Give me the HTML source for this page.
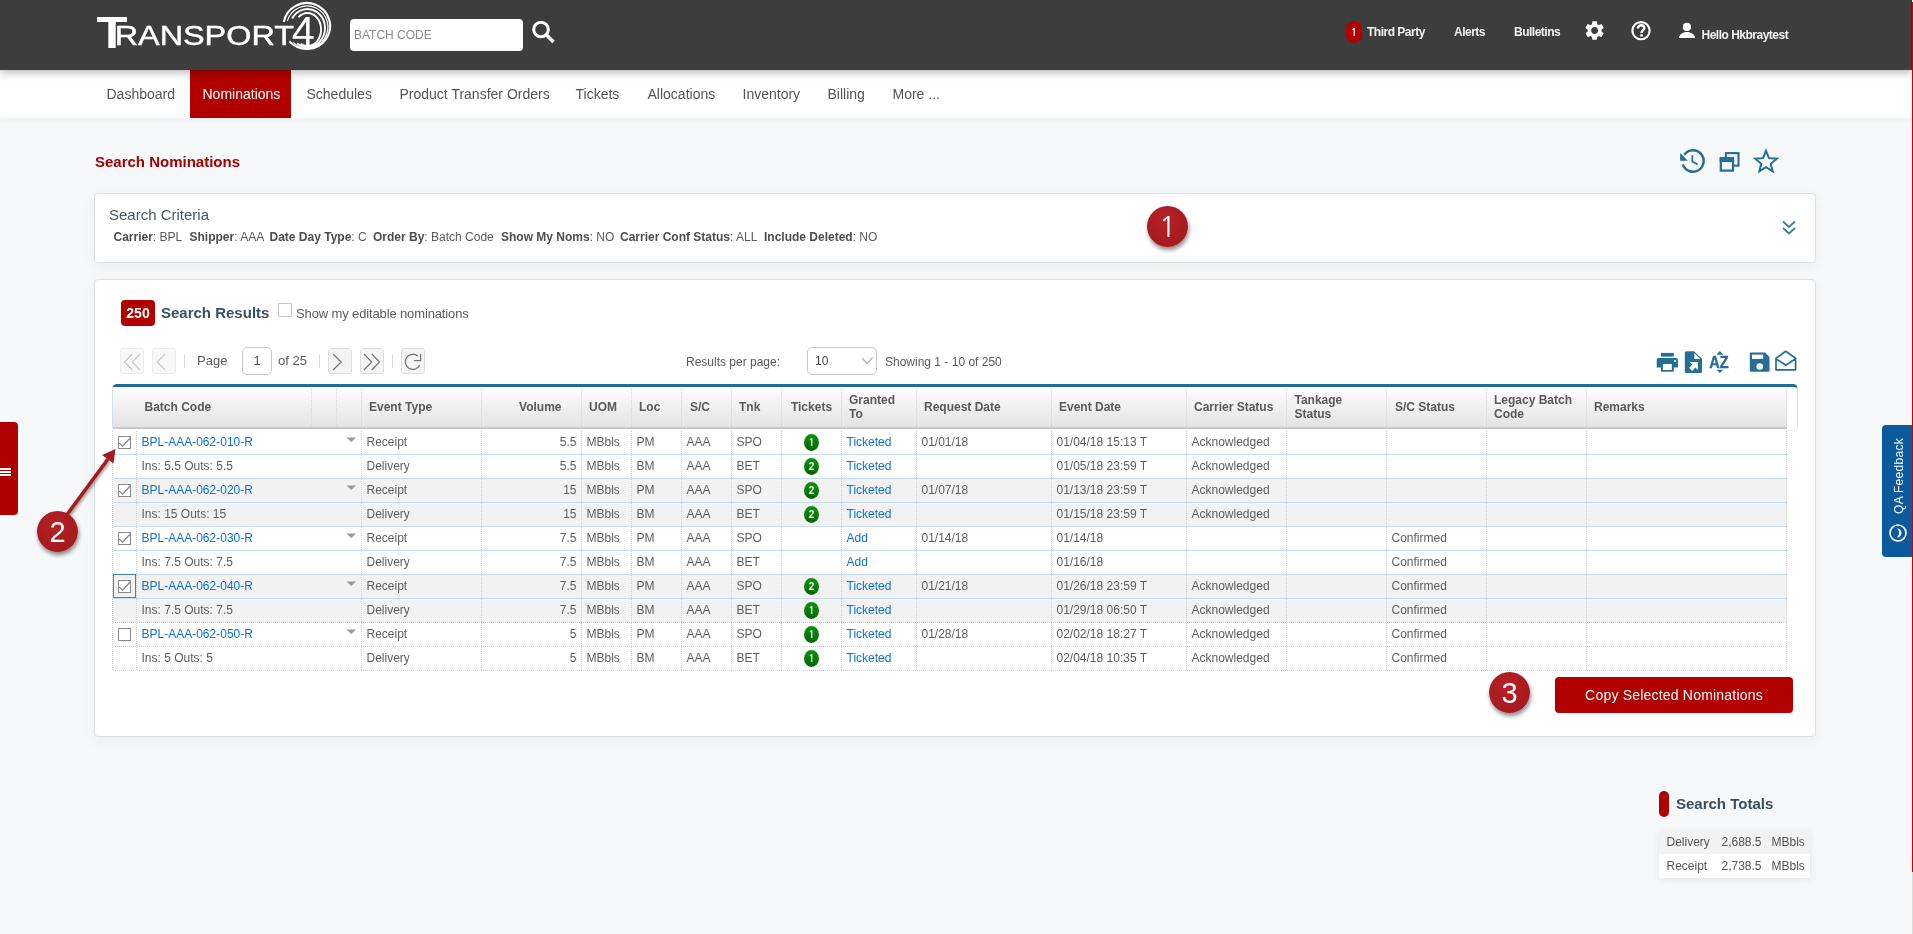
<!DOCTYPE html>
<html><head><meta charset="utf-8"><title>Search Nominations</title>
<style>
html,body{margin:0;padding:0}
body{width:1913px;height:934px;overflow:hidden;position:relative;will-change:transform;background:#f7f8fa;font-family:"Liberation Sans",Arial,sans-serif;}
.t{position:absolute;white-space:nowrap}
.b{position:absolute;box-sizing:border-box}
</style></head><body>
<div class="b" style="left:0px;top:0px;width:1913px;height:70px;background:#3d3d3d;box-shadow:0 2px 9px rgba(0,0,0,.32);z-index:2"></div>
<svg class="t" style="left:0;top:0;z-index:3" width="340" height="60" viewBox="0 0 340 60">
<g fill="none" stroke="#fff" stroke-linecap="butt">
<path d="M283.85 22.01 A23.3 23 0 1 1 289.48 41.39" stroke-width="2.1"/>
<path d="M287.40 20.86 A20.7 21 0 1 1 293.35 42.61" stroke-width="1.2"/>
<path d="M292.16 18.50 A17.6 19 0 1 1 297.05 43.37" stroke-width="1.9"/>
<path d="M298.40 17.24 A13.6 16.5 0 1 1 300.70 43.79" stroke-width="1.9"/>
</g>
<g fill="#fff" font-family="Liberation Sans, Arial, sans-serif">
<text transform="translate(96.44 48) scale(1.13 1)" font-size="45" font-weight="700">T</text>
<text transform="translate(114.64 44.5) scale(1.145 1)" font-size="28.3" stroke="#fff" stroke-width="0.45">RANSPORT</text>
<text transform="translate(291.75 45) scale(1.035 1)" font-size="40">4</text>
</g>
</svg>
<div class="b" style="left:350px;top:19px;width:173px;height:32px;background:#fff;border-radius:4px;z-index:3"></div>
<div class="t" style="left:354px;top:28.00px;font-size:12px;line-height:15px;color:#8a8a8a;z-index:4">BATCH CODE</div>
<svg class="t" style="left:530px;top:19px;z-index:4" width="28" height="28" viewBox="0 0 28 28">
<circle cx="11" cy="10.5" r="7.3" fill="none" stroke="#fff" stroke-width="3"/>
<path d="M16.5 16 L23.5 23" stroke="#fff" stroke-width="3.6" stroke-linecap="butt"/>
</svg>
<div class="b" style="left:1346px;top:21px;width:16px;height:22px;background:#b00000;border-radius:8px;z-index:3"></div>
<div class="t" style="left:1346.0px;width:16px;text-align:center;top:27.00px;font-size:10px;line-height:12px;color:#fff;font-weight:700;z-index:4;font-family:NanumGothic,'Liberation Sans',sans-serif">1</div>
<div class="t" style="left:1367px;top:25.00px;font-size:12px;line-height:15px;color:#f2f2f2;font-weight:700;z-index:4;letter-spacing:-0.5px">Third Party</div>
<div class="t" style="left:1454px;top:25.00px;font-size:12px;line-height:15px;color:#f2f2f2;font-weight:700;z-index:4;letter-spacing:-0.5px">Alerts</div>
<div class="t" style="left:1514px;top:25.00px;font-size:12px;line-height:15px;color:#f2f2f2;font-weight:700;z-index:4;letter-spacing:-0.5px">Bulletins</div>
<svg class="t" style="left:1583.4px;top:18.95px;z-index:4" width="23.2" height="23.2" viewBox="0 0 24 24">
<path fill="#fff" d="M19.14 12.94c.04-.3.06-.61.06-.94 0-.32-.02-.64-.07-.94l2.03-1.58c.18-.14.23-.41.12-.61l-1.92-3.32c-.12-.22-.37-.29-.59-.22l-2.39.96c-.5-.38-1.03-.7-1.62-.94l-.36-2.54c-.04-.24-.24-.41-.48-.41h-3.84c-.24 0-.43.17-.47.41l-.36 2.54c-.59.24-1.13.57-1.62.94l-2.39-.96c-.22-.08-.47 0-.59.22L2.74 8.87c-.12.21-.08.47.12.61l2.03 1.58c-.05.3-.09.63-.09.94s.02.64.07.94l-2.03 1.58c-.18.14-.23.41-.12.61l1.92 3.32c.12.22.37.29.59.22l2.39-.96c.5.38 1.03.7 1.620.94l.36 2.54c.05.24.24.41.48.41h3.84c.24 0 .44-.17.47-.41l.36-2.54c.59-.24 1.13-.56 1.62-.94l2.39.96c.22.08.47 0 .59-.22l1.92-3.32c.12-.22.07-.47-.12-.61l-2.01-1.58zM12 15.6c-1.98 0-3.6-1.62-3.6-3.6s1.62-3.6 3.6-3.6 3.6 1.62 3.6 3.6-1.62 3.6-3.6 3.6z"/>
</svg>
<svg class="t" style="left:1630px;top:20px;z-index:4" width="22" height="22" viewBox="0 0 22 22">
<circle cx="11" cy="10.65" r="8.6" fill="none" stroke="#fff" stroke-width="2.2"/>
<path d="M7.9 8.4 C7.9 6.4 9.4 5.3 11.2 5.3 C13.1 5.3 14.3 6.5 14.3 8.1 C14.3 10.3 11.5 10.4 11.5 12.9" fill="none" stroke="#fff" stroke-width="2.5"/>
<rect x="10.2" y="14.3" width="2.6" height="2.2" fill="#fff"/>
</svg>
<svg class="t" style="left:1678px;top:22px;z-index:4" width="18" height="18" viewBox="0 0 18 18">
<circle cx="8.9" cy="4.9" r="4.1" fill="#fff"/>
<path d="M1 16.1 C1 12.3 5 9.9 8.9 9.9 C12.9 9.9 17 12.3 17 16.1 Z" fill="#fff"/>
</svg>
<div class="t" style="left:1701.5px;top:28.00px;font-size:12px;line-height:15px;color:#f2f2f2;font-weight:700;z-index:4;letter-spacing:-0.5px">Hello Hkbraytest</div>
<div class="b" style="left:0px;top:70px;width:1913px;height:48px;background:#fff;z-index:1;box-shadow:0 1px 5px rgba(0,0,0,.05)"></div>
<div class="b" style="left:190px;top:70px;width:101px;height:48px;background:#b00000;z-index:1"></div>
<div class="t" style="left:106.5px;top:85.00px;font-size:14px;line-height:18px;color:#555;z-index:2">Dashboard</div>
<div class="t" style="left:202.5px;top:85.00px;font-size:14px;line-height:18px;color:#fff;z-index:2">Nominations</div>
<div class="t" style="left:306.5px;top:85.00px;font-size:14px;line-height:18px;color:#555;z-index:2">Schedules</div>
<div class="t" style="left:399.5px;top:85.00px;font-size:14px;line-height:18px;color:#555;z-index:2">Product Transfer Orders</div>
<div class="t" style="left:575.5px;top:85.00px;font-size:14px;line-height:18px;color:#555;z-index:2">Tickets</div>
<div class="t" style="left:647.5px;top:85.00px;font-size:14px;line-height:18px;color:#555;z-index:2">Allocations</div>
<div class="t" style="left:742.5px;top:85.00px;font-size:14px;line-height:18px;color:#555;z-index:2">Inventory</div>
<div class="t" style="left:827.5px;top:85.00px;font-size:14px;line-height:18px;color:#555;z-index:2">Billing</div>
<div class="t" style="left:892.5px;top:85.00px;font-size:14px;line-height:18px;color:#555;z-index:2">More ...</div>
<div class="t" style="left:95px;top:152.00px;font-size:15px;line-height:19px;color:#a30000;font-weight:700;">Search Nominations</div>
<svg class="t" style="left:1678px;top:147px" width="30" height="30" viewBox="0 0 30 30">
<path d="M4.8 17.3 A10.7 10.7 0 1 0 6.3 7.7" fill="none" stroke="#246f93" stroke-width="2.5"/>
<path d="M2.1 5.9 L2.1 13.8 L9.9 13.8 Z" fill="#246f93"/>
<path d="M14.3 8.3 V14.5 L19.6 17.4" fill="none" stroke="#246f93" stroke-width="1.7"/>
</svg>
<svg class="t" style="left:1718px;top:151px" width="23" height="23" viewBox="0 0 23 23">
<rect x="7.9" y="2.1" width="12.6" height="12.5" fill="none" stroke="#246f93" stroke-width="2.1"/>
<rect x="2.8" y="7.3" width="12.2" height="12.3" fill="#f7f8fa" stroke="#246f93" stroke-width="2.2"/>
<rect x="1.7" y="6.2" width="14.4" height="4.9" fill="#246f93"/>
</svg>
<svg class="t" style="left:1752.3px;top:148.3px" width="28" height="28" viewBox="0 0 28 28">
<path d="M14.00 2.80 L16.94 10.15 L24.84 10.68 L18.76 15.75 L20.70 23.42 L14.00 19.20 L7.30 23.42 L9.24 15.75 L3.16 10.68 L11.06 10.15 Z" fill="none" stroke="#246f93" stroke-width="2" stroke-linejoin="miter" stroke-miterlimit="10"/>
</svg>
<div class="b" style="left:94px;top:193px;width:1722px;height:70px;background:#fff;border:1px solid #d9e0e6;border-radius:4px;box-shadow:0 4px 14px rgba(0,0,0,.055)"></div>
<div class="t" style="left:109px;top:205.00px;font-size:15px;line-height:19px;color:#4b5661;">Search Criteria</div>
<div class="t" style="left:113.5px;top:230.00px;font-size:12px;line-height:15px;color:#5a5a5a;"><b style="color:#4d4d4d">Carrier</b>: BPL</div>
<div class="t" style="left:189.5px;top:230.00px;font-size:12px;line-height:15px;color:#5a5a5a;"><b style="color:#4d4d4d">Shipper</b>: AAA</div>
<div class="t" style="left:269.5px;top:230.00px;font-size:12px;line-height:15px;color:#5a5a5a;"><b style="color:#4d4d4d">Date Day Type</b>: C</div>
<div class="t" style="left:373px;top:230.00px;font-size:12px;line-height:15px;color:#5a5a5a;"><b style="color:#4d4d4d">Order By</b>: Batch Code</div>
<div class="t" style="left:501px;top:230.00px;font-size:12px;line-height:15px;color:#5a5a5a;"><b style="color:#4d4d4d">Show My Noms</b>: NO</div>
<div class="t" style="left:620px;top:230.00px;font-size:12px;line-height:15px;color:#5a5a5a;"><b style="color:#4d4d4d">Carrier Conf Status</b>: ALL</div>
<div class="t" style="left:764px;top:230.00px;font-size:12px;line-height:15px;color:#5a5a5a;"><b style="color:#4d4d4d">Include Deleted</b>: NO</div>
<svg class="t" style="left:1780px;top:219px" width="18" height="18" viewBox="0 0 18 18">
<path d="M3 2.5 L9 8 L15 2.5 M3 9 L9 14.5 L15 9" fill="none" stroke="#3a7ea0" stroke-width="1.8"/>
</svg>
<div class="b" style="left:94px;top:279px;width:1722px;height:458px;background:#fff;border:1px solid #d9e0e6;border-radius:4px;box-shadow:0 4px 14px rgba(0,0,0,.055)"></div>
<div class="b" style="left:121px;top:300px;width:34px;height:26px;background:#b00000;border-radius:4px"></div>
<div class="t" style="left:121.0px;width:34px;text-align:center;top:304.00px;font-size:14px;line-height:18px;color:#fff;font-weight:700;">250</div>
<div class="t" style="left:161px;top:303.00px;font-size:15px;line-height:19px;color:#3a5060;font-weight:700;">Search Results</div>
<div class="b" style="left:278px;top:303px;width:14px;height:14px;background:#fff;border:1px solid #c4c4c4;border-radius:1px"></div>
<div class="t" style="left:296px;top:306.00px;font-size:13px;line-height:16px;color:#5a5a5a;letter-spacing:-0.13px">Show my editable nominations</div>
<div class="b" style="left:120px;top:348px;width:24px;height:26px;background:#f8f8f8;border:1px solid #ececec;border-radius:3px"></div>
<svg class="t" style="left:120px;top:348px" width="24" height="26" viewBox="0 0 24 26"><path d="M12.3 6 L4.6 14 L12.3 22 M20 6 L12.3 14 L20 22" fill="none" stroke="#c8c8c8" stroke-width="1.2"/></svg>
<div class="b" style="left:152px;top:348px;width:24px;height:26px;background:#f8f8f8;border:1px solid #ececec;border-radius:3px"></div>
<svg class="t" style="left:152px;top:348px" width="24" height="26" viewBox="0 0 24 26"><path d="M13.2 6 L5.2 14 L13.2 22" fill="none" stroke="#c8c8c8" stroke-width="1.2"/></svg>
<div class="b" style="left:184px;top:354px;width:1px;height:14px;background:#dcdcdc"></div>
<div class="t" style="left:197px;top:353.00px;font-size:13px;line-height:16px;color:#5a5a5a;">Page</div>
<div class="b" style="left:242px;top:347px;width:30px;height:28px;background:#fff;border:1px solid #c8c8c8;border-radius:5px"></div>
<div class="t" style="left:242.0px;width:30px;text-align:center;top:353.00px;font-size:13px;line-height:16px;color:#555;">1</div>
<div class="t" style="left:278px;top:353.00px;font-size:13px;line-height:16px;color:#5a5a5a;">of 25</div>
<div class="b" style="left:319px;top:354px;width:1px;height:14px;background:#dcdcdc"></div>
<div class="b" style="left:328px;top:348px;width:24px;height:26px;background:#f4f4f4;border:1px solid #dedede;border-radius:3px"></div>
<svg class="t" style="left:328px;top:348px" width="24" height="26" viewBox="0 0 24 26"><path d="M5 6 L13.2 14 L5 22" fill="none" stroke="#777" stroke-width="1.2"/></svg>
<div class="b" style="left:360px;top:348px;width:24px;height:26px;background:#f4f4f4;border:1px solid #dedede;border-radius:3px"></div>
<svg class="t" style="left:360px;top:348px" width="24" height="26" viewBox="0 0 24 26"><path d="M4 6 L11.8 14 L4 22 M11.8 6 L19.6 14 L11.8 22" fill="none" stroke="#777" stroke-width="1.2"/></svg>
<div class="b" style="left:392px;top:354px;width:1px;height:14px;background:#dcdcdc"></div>
<div class="b" style="left:401px;top:348px;width:24px;height:26px;background:#f4f4f4;border:1px solid #dedede;border-radius:3px"></div>
<svg class="t" style="left:401px;top:348px" width="24" height="26" viewBox="0 0 24 26"><path d="M18.8 17 A7.6 7.6 0 1 1 16.8 8" fill="none" stroke="#777" stroke-width="1.3"/><path d="M19.6 6 V12.7 H13" fill="none" stroke="#777" stroke-width="1.3"/></svg>
<div class="t" style="left:686px;top:355.00px;font-size:12px;line-height:15px;color:#5a5a5a;">Results per page:</div>
<div class="b" style="left:807px;top:347px;width:70px;height:28px;background:#fff;border:1px solid #c8c8c8;border-radius:5px"></div>
<div class="t" style="left:815px;top:354.00px;font-size:12px;line-height:15px;color:#444;">10</div>
<svg class="t" style="left:860px;top:355px" width="14" height="12" viewBox="0 0 14 12"><path d="M2 3 L7 8.5 L12.5 2.5" fill="none" stroke="#a6b3c3" stroke-width="1.3"/></svg>
<div class="t" style="left:885px;top:355.00px;font-size:12px;line-height:15px;color:#5a5a5a;">Showing 1 - 10 of 250</div>
<svg class="t" style="left:1655px;top:350px" width="145" height="26" viewBox="1655 350 145 26">
<g fill="#246f93">
<rect x="1661" y="352.9" width="12.8" height="3.7"/>
<path d="M1658.3 358.1 h18 a1.6 1.6 0 0 1 1.6 1.6 v7.9 h-21.2 v-7.9 a1.6 1.6 0 0 1 1.6 -1.6z"/>
<rect x="1661" y="363" width="12.8" height="8.7"/>
<rect x="1662.9" y="364" width="8.9" height="6" fill="#fff"/>
<circle cx="1675" cy="361" r="1.05" fill="#fff"/>
<path d="M1686.3 351.2 h7.7 l8 7.6 v12.6 a1.5 1.5 0 0 1 -1.5 1.5 h-14.2 a1.5 1.5 0 0 1 -1.5 -1.5 v-18.7 a1.5 1.5 0 0 1 1.5 -1.5z"/>
<path d="M1694.3 352.9 V359 H1700.3 Z" fill="#fff"/>
<path d="M1689.9 361.9 H1697.9 V370.1 L1695.3 367.6 L1692.3 370.9 L1689.2 367.9 L1692.2 364.6 Z" fill="#fff"/>
<path d="M1719.85 351 L1723.3 354.8 H1716.4Z M1719.95 373.1 L1723.2 369.8 H1716.7Z"/>
</g>
<text x="1709.3" y="367.6" font-family="Liberation Sans, Arial, sans-serif" font-weight="700" font-size="15.7" fill="#246f93" stroke="#246f93" stroke-width="0.35" textLength="19.4" lengthAdjust="spacingAndGlyphs">AZ</text>
<g fill="#246f93">
<path d="M1751 352.5 h14 l4.5 4.5 v13.5 a1.2 1.2 0 0 1 -1.2 1.2 h-17.3 a1.2 1.2 0 0 1 -1.2 -1.2 v-16.8 a1.2 1.2 0 0 1 1.2 -1.2z"/>
<rect x="1752" y="354.6" width="11.2" height="4.4" fill="#fff"/>
<circle cx="1759.7" cy="366.5" r="3.3" fill="#fff"/>
</g>
<path d="M1776 358.3 L1785.8 351.3 L1795.6 358.3 V369.8 H1776 Z M1776 358.8 L1785.8 365.2 L1795.6 358.8" fill="none" stroke="#246f93" stroke-width="1.7" stroke-linejoin="round"/>
</svg>
<div class="b" style="left:112px;top:384px;width:1686px;height:47px;background:#fff;border:1px solid #d3e0e8;border-top:3px solid #1f6e92;border-bottom-color:#eef3f6;border-radius:5px 5px 5px 5px"></div>
<div class="b" style="left:113px;top:387px;width:1674px;height:42px;background:linear-gradient(#ffffff,#f3f3f3 40%,#e3e3e3);border-bottom:2px solid #c9c9c9"></div>
<div class="b" style="left:311.0px;top:388px;width:1px;height:39px;background:repeating-linear-gradient(#d6d6d6 0 1px,transparent 1px 2px)"></div>
<div class="b" style="left:336.0px;top:388px;width:1px;height:39px;background:repeating-linear-gradient(#d6d6d6 0 1px,transparent 1px 2px)"></div>
<div class="b" style="left:361.0px;top:388px;width:1px;height:39px;background:repeating-linear-gradient(#d6d6d6 0 1px,transparent 1px 2px)"></div>
<div class="b" style="left:481.0px;top:388px;width:1px;height:39px;background:repeating-linear-gradient(#d6d6d6 0 1px,transparent 1px 2px)"></div>
<div class="b" style="left:581.0px;top:388px;width:1px;height:39px;background:repeating-linear-gradient(#d6d6d6 0 1px,transparent 1px 2px)"></div>
<div class="b" style="left:631.0px;top:388px;width:1px;height:39px;background:repeating-linear-gradient(#d6d6d6 0 1px,transparent 1px 2px)"></div>
<div class="b" style="left:681.0px;top:388px;width:1px;height:39px;background:repeating-linear-gradient(#d6d6d6 0 1px,transparent 1px 2px)"></div>
<div class="b" style="left:731.0px;top:388px;width:1px;height:39px;background:repeating-linear-gradient(#d6d6d6 0 1px,transparent 1px 2px)"></div>
<div class="b" style="left:781.0px;top:388px;width:1px;height:39px;background:repeating-linear-gradient(#d6d6d6 0 1px,transparent 1px 2px)"></div>
<div class="b" style="left:841.0px;top:388px;width:1px;height:39px;background:repeating-linear-gradient(#d6d6d6 0 1px,transparent 1px 2px)"></div>
<div class="b" style="left:916.0px;top:388px;width:1px;height:39px;background:repeating-linear-gradient(#d6d6d6 0 1px,transparent 1px 2px)"></div>
<div class="b" style="left:1051.0px;top:388px;width:1px;height:39px;background:repeating-linear-gradient(#d6d6d6 0 1px,transparent 1px 2px)"></div>
<div class="b" style="left:1186.0px;top:388px;width:1px;height:39px;background:repeating-linear-gradient(#d6d6d6 0 1px,transparent 1px 2px)"></div>
<div class="b" style="left:1286.0px;top:388px;width:1px;height:39px;background:repeating-linear-gradient(#d6d6d6 0 1px,transparent 1px 2px)"></div>
<div class="b" style="left:1386.0px;top:388px;width:1px;height:39px;background:repeating-linear-gradient(#d6d6d6 0 1px,transparent 1px 2px)"></div>
<div class="b" style="left:1486.0px;top:388px;width:1px;height:39px;background:repeating-linear-gradient(#d6d6d6 0 1px,transparent 1px 2px)"></div>
<div class="b" style="left:1586.0px;top:388px;width:1px;height:39px;background:repeating-linear-gradient(#d6d6d6 0 1px,transparent 1px 2px)"></div>
<div class="b" style="left:1786.0px;top:388px;width:1px;height:39px;background:repeating-linear-gradient(#d6d6d6 0 1px,transparent 1px 2px)"></div>
<div class="t" style="left:144.5px;top:400.00px;font-size:12px;line-height:15px;color:#595959;font-weight:700;">Batch Code</div>
<div class="t" style="left:369px;top:400.00px;font-size:12px;line-height:15px;color:#595959;font-weight:700;">Event Type</div>
<div class="t" style="left:501.5px;width:60px;text-align:right;top:400.00px;font-size:12px;line-height:15px;color:#595959;font-weight:700;">Volume</div>
<div class="t" style="left:589px;top:400.00px;font-size:12px;line-height:15px;color:#595959;font-weight:700;">UOM</div>
<div class="t" style="left:639px;top:400.00px;font-size:12px;line-height:15px;color:#595959;font-weight:700;">Loc</div>
<div class="t" style="left:690px;top:400.00px;font-size:12px;line-height:15px;color:#595959;font-weight:700;">S/C</div>
<div class="t" style="left:739px;top:400.00px;font-size:12px;line-height:15px;color:#595959;font-weight:700;">Tnk</div>
<div class="t" style="left:782.5px;width:58px;text-align:center;top:400.00px;font-size:12px;line-height:15px;color:#595959;font-weight:700;">Tickets</div>
<div class="t" style="left:849px;top:393.00px;font-size:12px;line-height:15px;color:#595959;font-weight:700;">Granted</div>
<div class="t" style="left:849px;top:407.00px;font-size:12px;line-height:15px;color:#595959;font-weight:700;">To</div>
<div class="t" style="left:924px;top:400.00px;font-size:12px;line-height:15px;color:#595959;font-weight:700;">Request Date</div>
<div class="t" style="left:1059px;top:400.00px;font-size:12px;line-height:15px;color:#595959;font-weight:700;">Event Date</div>
<div class="t" style="left:1194px;top:400.00px;font-size:12px;line-height:15px;color:#595959;font-weight:700;">Carrier Status</div>
<div class="t" style="left:1294.5px;top:393.00px;font-size:12px;line-height:15px;color:#595959;font-weight:700;">Tankage</div>
<div class="t" style="left:1294.5px;top:407.00px;font-size:12px;line-height:15px;color:#595959;font-weight:700;">Status</div>
<div class="t" style="left:1395px;top:400.00px;font-size:12px;line-height:15px;color:#595959;font-weight:700;">S/C Status</div>
<div class="t" style="left:1494px;top:393.00px;font-size:12px;line-height:15px;color:#595959;font-weight:700;">Legacy Batch</div>
<div class="t" style="left:1494px;top:407.00px;font-size:12px;line-height:15px;color:#595959;font-weight:700;">Code</div>
<div class="t" style="left:1594px;top:400.00px;font-size:12px;line-height:15px;color:#595959;font-weight:700;">Remarks</div>
<div class="b" style="left:113px;top:430px;width:1674px;height:24px;background:#fff"></div>
<div class="b" style="left:113px;top:454px;width:1674px;height:24px;background:#fff"></div>
<div class="b" style="left:113px;top:478px;width:1674px;height:24px;background:#f2f2f2"></div>
<div class="b" style="left:113px;top:502px;width:1674px;height:24px;background:#f2f2f2"></div>
<div class="b" style="left:113px;top:526px;width:1674px;height:24px;background:#fff"></div>
<div class="b" style="left:113px;top:550px;width:1674px;height:24px;background:#fff"></div>
<div class="b" style="left:113px;top:574px;width:1674px;height:24px;background:#f2f2f2"></div>
<div class="b" style="left:113px;top:598px;width:1674px;height:24px;background:#f2f2f2"></div>
<div class="b" style="left:113px;top:622px;width:1674px;height:24px;background:#fff"></div>
<div class="b" style="left:113px;top:646px;width:1674px;height:24px;background:#fff"></div>
<div class="b" style="left:118px;top:436px;width:13px;height:13px;background:#fff;border:1.2px solid #8a8a8a"></div>
<svg class="t" style="left:118px;top:436px" width="13" height="13" viewBox="0 0 13 13"><path d="M1.1 6.9 L4.6 10.2 L12.4 1.7" fill="none" stroke="#8a8a8a" stroke-width="1.3"/></svg>
<div class="t" style="left:141.5px;top:435.00px;font-size:12px;line-height:15px;color:#0e71d4;">BPL-AAA-062-010-R</div>
<svg class="t" style="left:346px;top:437px" width="11" height="6" viewBox="0 0 11 6"><path d="M0.5 0.5 H10 L5.25 5 Z" fill="#9a9a9a"/></svg>
<div class="t" style="left:366.5px;top:435.00px;font-size:12px;line-height:15px;color:#5e5e5e;">Receipt</div>
<div class="t" style="left:516.5px;width:60px;text-align:right;top:435.00px;font-size:12px;line-height:15px;color:#5e5e5e;">5.5</div>
<div class="t" style="left:586.5px;top:435.00px;font-size:12px;line-height:15px;color:#5e5e5e;">MBbls</div>
<div class="t" style="left:636.5px;top:435.00px;font-size:12px;line-height:15px;color:#5e5e5e;">PM</div>
<div class="t" style="left:686.5px;top:435.00px;font-size:12px;line-height:15px;color:#5e5e5e;">AAA</div>
<div class="t" style="left:736.5px;top:435.00px;font-size:12px;line-height:15px;color:#5e5e5e;">SPO</div>
<div class="b" style="left:804px;top:434px;width:15px;height:17px;border-radius:50%;background:linear-gradient(#0a960a,#087c08 55%,#056205);z-index:1"></div>
<div class="t" style="left:803.5px;width:16px;text-align:center;top:437.00px;font-size:10px;line-height:12px;color:#fff;font-weight:700;z-index:2;font-family:NanumGothic,'Liberation Sans',sans-serif;">1</div>
<div class="t" style="left:846.5px;top:435.00px;font-size:12px;line-height:15px;color:#0e71d4;">Ticketed</div>
<div class="t" style="left:921.5px;top:435.00px;font-size:12px;line-height:15px;color:#5e5e5e;">01/01/18</div>
<div class="t" style="left:1056.5px;top:435.00px;font-size:12px;line-height:15px;color:#5e5e5e;">01/04/18 15:13 T</div>
<div class="t" style="left:1191.5px;top:435.00px;font-size:12px;line-height:15px;color:#5e5e5e;">Acknowledged</div>
<div class="t" style="left:141.5px;top:459.00px;font-size:12px;line-height:15px;color:#5e5e5e;">Ins: 5.5 Outs: 5.5</div>
<div class="t" style="left:366.5px;top:459.00px;font-size:12px;line-height:15px;color:#5e5e5e;">Delivery</div>
<div class="t" style="left:516.5px;width:60px;text-align:right;top:459.00px;font-size:12px;line-height:15px;color:#5e5e5e;">5.5</div>
<div class="t" style="left:586.5px;top:459.00px;font-size:12px;line-height:15px;color:#5e5e5e;">MBbls</div>
<div class="t" style="left:636.5px;top:459.00px;font-size:12px;line-height:15px;color:#5e5e5e;">BM</div>
<div class="t" style="left:686.5px;top:459.00px;font-size:12px;line-height:15px;color:#5e5e5e;">AAA</div>
<div class="t" style="left:736.5px;top:459.00px;font-size:12px;line-height:15px;color:#5e5e5e;">BET</div>
<div class="b" style="left:804px;top:458px;width:15px;height:17px;border-radius:50%;background:linear-gradient(#0a960a,#087c08 55%,#056205);z-index:1"></div>
<div class="t" style="left:803.5px;width:16px;text-align:center;top:461.00px;font-size:10px;line-height:12px;color:#fff;font-weight:700;z-index:2;">2</div>
<div class="t" style="left:846.5px;top:459.00px;font-size:12px;line-height:15px;color:#0e71d4;">Ticketed</div>
<div class="t" style="left:1056.5px;top:459.00px;font-size:12px;line-height:15px;color:#5e5e5e;">01/05/18 23:59 T</div>
<div class="t" style="left:1191.5px;top:459.00px;font-size:12px;line-height:15px;color:#5e5e5e;">Acknowledged</div>
<div class="b" style="left:118px;top:484px;width:13px;height:13px;background:#fff;border:1.2px solid #8a8a8a"></div>
<svg class="t" style="left:118px;top:484px" width="13" height="13" viewBox="0 0 13 13"><path d="M1.1 6.9 L4.6 10.2 L12.4 1.7" fill="none" stroke="#8a8a8a" stroke-width="1.3"/></svg>
<div class="t" style="left:141.5px;top:483.00px;font-size:12px;line-height:15px;color:#0e71d4;">BPL-AAA-062-020-R</div>
<svg class="t" style="left:346px;top:485px" width="11" height="6" viewBox="0 0 11 6"><path d="M0.5 0.5 H10 L5.25 5 Z" fill="#9a9a9a"/></svg>
<div class="t" style="left:366.5px;top:483.00px;font-size:12px;line-height:15px;color:#5e5e5e;">Receipt</div>
<div class="t" style="left:516.5px;width:60px;text-align:right;top:483.00px;font-size:12px;line-height:15px;color:#5e5e5e;">15</div>
<div class="t" style="left:586.5px;top:483.00px;font-size:12px;line-height:15px;color:#5e5e5e;">MBbls</div>
<div class="t" style="left:636.5px;top:483.00px;font-size:12px;line-height:15px;color:#5e5e5e;">PM</div>
<div class="t" style="left:686.5px;top:483.00px;font-size:12px;line-height:15px;color:#5e5e5e;">AAA</div>
<div class="t" style="left:736.5px;top:483.00px;font-size:12px;line-height:15px;color:#5e5e5e;">SPO</div>
<div class="b" style="left:804px;top:482px;width:15px;height:17px;border-radius:50%;background:linear-gradient(#0a960a,#087c08 55%,#056205);z-index:1"></div>
<div class="t" style="left:803.5px;width:16px;text-align:center;top:485.00px;font-size:10px;line-height:12px;color:#fff;font-weight:700;z-index:2;">2</div>
<div class="t" style="left:846.5px;top:483.00px;font-size:12px;line-height:15px;color:#0e71d4;">Ticketed</div>
<div class="t" style="left:921.5px;top:483.00px;font-size:12px;line-height:15px;color:#5e5e5e;">01/07/18</div>
<div class="t" style="left:1056.5px;top:483.00px;font-size:12px;line-height:15px;color:#5e5e5e;">01/13/18 23:59 T</div>
<div class="t" style="left:1191.5px;top:483.00px;font-size:12px;line-height:15px;color:#5e5e5e;">Acknowledged</div>
<div class="t" style="left:141.5px;top:507.00px;font-size:12px;line-height:15px;color:#5e5e5e;">Ins: 15 Outs: 15</div>
<div class="t" style="left:366.5px;top:507.00px;font-size:12px;line-height:15px;color:#5e5e5e;">Delivery</div>
<div class="t" style="left:516.5px;width:60px;text-align:right;top:507.00px;font-size:12px;line-height:15px;color:#5e5e5e;">15</div>
<div class="t" style="left:586.5px;top:507.00px;font-size:12px;line-height:15px;color:#5e5e5e;">MBbls</div>
<div class="t" style="left:636.5px;top:507.00px;font-size:12px;line-height:15px;color:#5e5e5e;">BM</div>
<div class="t" style="left:686.5px;top:507.00px;font-size:12px;line-height:15px;color:#5e5e5e;">AAA</div>
<div class="t" style="left:736.5px;top:507.00px;font-size:12px;line-height:15px;color:#5e5e5e;">BET</div>
<div class="b" style="left:804px;top:506px;width:15px;height:17px;border-radius:50%;background:linear-gradient(#0a960a,#087c08 55%,#056205);z-index:1"></div>
<div class="t" style="left:803.5px;width:16px;text-align:center;top:509.00px;font-size:10px;line-height:12px;color:#fff;font-weight:700;z-index:2;">2</div>
<div class="t" style="left:846.5px;top:507.00px;font-size:12px;line-height:15px;color:#0e71d4;">Ticketed</div>
<div class="t" style="left:1056.5px;top:507.00px;font-size:12px;line-height:15px;color:#5e5e5e;">01/15/18 23:59 T</div>
<div class="t" style="left:1191.5px;top:507.00px;font-size:12px;line-height:15px;color:#5e5e5e;">Acknowledged</div>
<div class="b" style="left:118px;top:532px;width:13px;height:13px;background:#fff;border:1.2px solid #8a8a8a"></div>
<svg class="t" style="left:118px;top:532px" width="13" height="13" viewBox="0 0 13 13"><path d="M1.1 6.9 L4.6 10.2 L12.4 1.7" fill="none" stroke="#8a8a8a" stroke-width="1.3"/></svg>
<div class="t" style="left:141.5px;top:531.00px;font-size:12px;line-height:15px;color:#0e71d4;">BPL-AAA-062-030-R</div>
<svg class="t" style="left:346px;top:533px" width="11" height="6" viewBox="0 0 11 6"><path d="M0.5 0.5 H10 L5.25 5 Z" fill="#9a9a9a"/></svg>
<div class="t" style="left:366.5px;top:531.00px;font-size:12px;line-height:15px;color:#5e5e5e;">Receipt</div>
<div class="t" style="left:516.5px;width:60px;text-align:right;top:531.00px;font-size:12px;line-height:15px;color:#5e5e5e;">7.5</div>
<div class="t" style="left:586.5px;top:531.00px;font-size:12px;line-height:15px;color:#5e5e5e;">MBbls</div>
<div class="t" style="left:636.5px;top:531.00px;font-size:12px;line-height:15px;color:#5e5e5e;">PM</div>
<div class="t" style="left:686.5px;top:531.00px;font-size:12px;line-height:15px;color:#5e5e5e;">AAA</div>
<div class="t" style="left:736.5px;top:531.00px;font-size:12px;line-height:15px;color:#5e5e5e;">SPO</div>
<div class="t" style="left:846.5px;top:531.00px;font-size:12px;line-height:15px;color:#0e71d4;">Add</div>
<div class="t" style="left:921.5px;top:531.00px;font-size:12px;line-height:15px;color:#5e5e5e;">01/14/18</div>
<div class="t" style="left:1056.5px;top:531.00px;font-size:12px;line-height:15px;color:#5e5e5e;">01/14/18</div>
<div class="t" style="left:1391.5px;top:531.00px;font-size:12px;line-height:15px;color:#5e5e5e;">Confirmed</div>
<div class="t" style="left:141.5px;top:555.00px;font-size:12px;line-height:15px;color:#5e5e5e;">Ins: 7.5 Outs: 7.5</div>
<div class="t" style="left:366.5px;top:555.00px;font-size:12px;line-height:15px;color:#5e5e5e;">Delivery</div>
<div class="t" style="left:516.5px;width:60px;text-align:right;top:555.00px;font-size:12px;line-height:15px;color:#5e5e5e;">7.5</div>
<div class="t" style="left:586.5px;top:555.00px;font-size:12px;line-height:15px;color:#5e5e5e;">MBbls</div>
<div class="t" style="left:636.5px;top:555.00px;font-size:12px;line-height:15px;color:#5e5e5e;">BM</div>
<div class="t" style="left:686.5px;top:555.00px;font-size:12px;line-height:15px;color:#5e5e5e;">AAA</div>
<div class="t" style="left:736.5px;top:555.00px;font-size:12px;line-height:15px;color:#5e5e5e;">BET</div>
<div class="t" style="left:846.5px;top:555.00px;font-size:12px;line-height:15px;color:#0e71d4;">Add</div>
<div class="t" style="left:1056.5px;top:555.00px;font-size:12px;line-height:15px;color:#5e5e5e;">01/16/18</div>
<div class="t" style="left:1391.5px;top:555.00px;font-size:12px;line-height:15px;color:#5e5e5e;">Confirmed</div>
<div class="b" style="left:118px;top:580px;width:13px;height:13px;background:#fff;border:1.2px solid #8a8a8a"></div>
<svg class="t" style="left:118px;top:580px" width="13" height="13" viewBox="0 0 13 13"><path d="M1.1 6.9 L4.6 10.2 L12.4 1.7" fill="none" stroke="#8a8a8a" stroke-width="1.3"/></svg>
<div class="t" style="left:141.5px;top:579.00px;font-size:12px;line-height:15px;color:#0e71d4;">BPL-AAA-062-040-R</div>
<svg class="t" style="left:346px;top:581px" width="11" height="6" viewBox="0 0 11 6"><path d="M0.5 0.5 H10 L5.25 5 Z" fill="#9a9a9a"/></svg>
<div class="t" style="left:366.5px;top:579.00px;font-size:12px;line-height:15px;color:#5e5e5e;">Receipt</div>
<div class="t" style="left:516.5px;width:60px;text-align:right;top:579.00px;font-size:12px;line-height:15px;color:#5e5e5e;">7.5</div>
<div class="t" style="left:586.5px;top:579.00px;font-size:12px;line-height:15px;color:#5e5e5e;">MBbls</div>
<div class="t" style="left:636.5px;top:579.00px;font-size:12px;line-height:15px;color:#5e5e5e;">PM</div>
<div class="t" style="left:686.5px;top:579.00px;font-size:12px;line-height:15px;color:#5e5e5e;">AAA</div>
<div class="t" style="left:736.5px;top:579.00px;font-size:12px;line-height:15px;color:#5e5e5e;">SPO</div>
<div class="b" style="left:804px;top:578px;width:15px;height:17px;border-radius:50%;background:linear-gradient(#0a960a,#087c08 55%,#056205);z-index:1"></div>
<div class="t" style="left:803.5px;width:16px;text-align:center;top:581.00px;font-size:10px;line-height:12px;color:#fff;font-weight:700;z-index:2;">2</div>
<div class="t" style="left:846.5px;top:579.00px;font-size:12px;line-height:15px;color:#0e71d4;">Ticketed</div>
<div class="t" style="left:921.5px;top:579.00px;font-size:12px;line-height:15px;color:#5e5e5e;">01/21/18</div>
<div class="t" style="left:1056.5px;top:579.00px;font-size:12px;line-height:15px;color:#5e5e5e;">01/26/18 23:59 T</div>
<div class="t" style="left:1191.5px;top:579.00px;font-size:12px;line-height:15px;color:#5e5e5e;">Acknowledged</div>
<div class="t" style="left:1391.5px;top:579.00px;font-size:12px;line-height:15px;color:#5e5e5e;">Confirmed</div>
<div class="t" style="left:141.5px;top:603.00px;font-size:12px;line-height:15px;color:#5e5e5e;">Ins: 7.5 Outs: 7.5</div>
<div class="t" style="left:366.5px;top:603.00px;font-size:12px;line-height:15px;color:#5e5e5e;">Delivery</div>
<div class="t" style="left:516.5px;width:60px;text-align:right;top:603.00px;font-size:12px;line-height:15px;color:#5e5e5e;">7.5</div>
<div class="t" style="left:586.5px;top:603.00px;font-size:12px;line-height:15px;color:#5e5e5e;">MBbls</div>
<div class="t" style="left:636.5px;top:603.00px;font-size:12px;line-height:15px;color:#5e5e5e;">BM</div>
<div class="t" style="left:686.5px;top:603.00px;font-size:12px;line-height:15px;color:#5e5e5e;">AAA</div>
<div class="t" style="left:736.5px;top:603.00px;font-size:12px;line-height:15px;color:#5e5e5e;">BET</div>
<div class="b" style="left:804px;top:602px;width:15px;height:17px;border-radius:50%;background:linear-gradient(#0a960a,#087c08 55%,#056205);z-index:1"></div>
<div class="t" style="left:803.5px;width:16px;text-align:center;top:605.00px;font-size:10px;line-height:12px;color:#fff;font-weight:700;z-index:2;font-family:NanumGothic,'Liberation Sans',sans-serif;">1</div>
<div class="t" style="left:846.5px;top:603.00px;font-size:12px;line-height:15px;color:#0e71d4;">Ticketed</div>
<div class="t" style="left:1056.5px;top:603.00px;font-size:12px;line-height:15px;color:#5e5e5e;">01/29/18 06:50 T</div>
<div class="t" style="left:1191.5px;top:603.00px;font-size:12px;line-height:15px;color:#5e5e5e;">Acknowledged</div>
<div class="t" style="left:1391.5px;top:603.00px;font-size:12px;line-height:15px;color:#5e5e5e;">Confirmed</div>
<div class="b" style="left:118px;top:628px;width:13px;height:13px;background:#fff;border:1.2px solid #8a8a8a"></div>
<div class="t" style="left:141.5px;top:627.00px;font-size:12px;line-height:15px;color:#0e71d4;">BPL-AAA-062-050-R</div>
<svg class="t" style="left:346px;top:629px" width="11" height="6" viewBox="0 0 11 6"><path d="M0.5 0.5 H10 L5.25 5 Z" fill="#9a9a9a"/></svg>
<div class="t" style="left:366.5px;top:627.00px;font-size:12px;line-height:15px;color:#5e5e5e;">Receipt</div>
<div class="t" style="left:516.5px;width:60px;text-align:right;top:627.00px;font-size:12px;line-height:15px;color:#5e5e5e;">5</div>
<div class="t" style="left:586.5px;top:627.00px;font-size:12px;line-height:15px;color:#5e5e5e;">MBbls</div>
<div class="t" style="left:636.5px;top:627.00px;font-size:12px;line-height:15px;color:#5e5e5e;">PM</div>
<div class="t" style="left:686.5px;top:627.00px;font-size:12px;line-height:15px;color:#5e5e5e;">AAA</div>
<div class="t" style="left:736.5px;top:627.00px;font-size:12px;line-height:15px;color:#5e5e5e;">SPO</div>
<div class="b" style="left:804px;top:626px;width:15px;height:17px;border-radius:50%;background:linear-gradient(#0a960a,#087c08 55%,#056205);z-index:1"></div>
<div class="t" style="left:803.5px;width:16px;text-align:center;top:629.00px;font-size:10px;line-height:12px;color:#fff;font-weight:700;z-index:2;font-family:NanumGothic,'Liberation Sans',sans-serif;">1</div>
<div class="t" style="left:846.5px;top:627.00px;font-size:12px;line-height:15px;color:#0e71d4;">Ticketed</div>
<div class="t" style="left:921.5px;top:627.00px;font-size:12px;line-height:15px;color:#5e5e5e;">01/28/18</div>
<div class="t" style="left:1056.5px;top:627.00px;font-size:12px;line-height:15px;color:#5e5e5e;">02/02/18 18:27 T</div>
<div class="t" style="left:1191.5px;top:627.00px;font-size:12px;line-height:15px;color:#5e5e5e;">Acknowledged</div>
<div class="t" style="left:1391.5px;top:627.00px;font-size:12px;line-height:15px;color:#5e5e5e;">Confirmed</div>
<div class="t" style="left:141.5px;top:651.00px;font-size:12px;line-height:15px;color:#5e5e5e;">Ins: 5 Outs: 5</div>
<div class="t" style="left:366.5px;top:651.00px;font-size:12px;line-height:15px;color:#5e5e5e;">Delivery</div>
<div class="t" style="left:516.5px;width:60px;text-align:right;top:651.00px;font-size:12px;line-height:15px;color:#5e5e5e;">5</div>
<div class="t" style="left:586.5px;top:651.00px;font-size:12px;line-height:15px;color:#5e5e5e;">MBbls</div>
<div class="t" style="left:636.5px;top:651.00px;font-size:12px;line-height:15px;color:#5e5e5e;">BM</div>
<div class="t" style="left:686.5px;top:651.00px;font-size:12px;line-height:15px;color:#5e5e5e;">AAA</div>
<div class="t" style="left:736.5px;top:651.00px;font-size:12px;line-height:15px;color:#5e5e5e;">BET</div>
<div class="b" style="left:804px;top:650px;width:15px;height:17px;border-radius:50%;background:linear-gradient(#0a960a,#087c08 55%,#056205);z-index:1"></div>
<div class="t" style="left:803.5px;width:16px;text-align:center;top:653.00px;font-size:10px;line-height:12px;color:#fff;font-weight:700;z-index:2;font-family:NanumGothic,'Liberation Sans',sans-serif;">1</div>
<div class="t" style="left:846.5px;top:651.00px;font-size:12px;line-height:15px;color:#0e71d4;">Ticketed</div>
<div class="t" style="left:1056.5px;top:651.00px;font-size:12px;line-height:15px;color:#5e5e5e;">02/04/18 10:35 T</div>
<div class="t" style="left:1191.5px;top:651.00px;font-size:12px;line-height:15px;color:#5e5e5e;">Acknowledged</div>
<div class="t" style="left:1391.5px;top:651.00px;font-size:12px;line-height:15px;color:#5e5e5e;">Confirmed</div>
<div class="b" style="left:113px;top:454px;width:1674px;height:1px;background:#c2dcf0;z-index:1"></div>
<div class="b" style="left:113px;top:478px;width:1674px;height:1px;background:#c2dcf0;z-index:1"></div>
<div class="b" style="left:113px;top:502px;width:1674px;height:1px;background:#c2dcf0;z-index:1"></div>
<div class="b" style="left:113px;top:526px;width:1674px;height:1px;background:#c2dcf0;z-index:1"></div>
<div class="b" style="left:113px;top:550px;width:1674px;height:1px;background:#c2dcf0;z-index:1"></div>
<div class="b" style="left:113px;top:574px;width:1674px;height:1px;background:#c2dcf0;z-index:1"></div>
<div class="b" style="left:113px;top:598px;width:1674px;height:1px;background:#c2dcf0;z-index:1"></div>
<div class="b" style="left:113px;top:622px;width:1674px;height:1px;background:repeating-linear-gradient(90deg,#cdcdcd 0 1px,transparent 1px 2px);z-index:1"></div>
<div class="b" style="left:113px;top:646px;width:1674px;height:1px;background:repeating-linear-gradient(90deg,#cdcdcd 0 1px,transparent 1px 2px);z-index:1"></div>
<div class="b" style="left:113px;top:670px;width:1674px;height:1px;background:repeating-linear-gradient(90deg,#cdcdcd 0 1px,transparent 1px 2px);z-index:1"></div>
<div class="b" style="left:112.0px;top:431px;width:1px;height:240px;background:repeating-linear-gradient(#cdcdcd 0 1px,transparent 1px 2px);z-index:1"></div>
<div class="b" style="left:136.0px;top:431px;width:1px;height:240px;background:repeating-linear-gradient(#cdcdcd 0 1px,transparent 1px 2px);z-index:1"></div>
<div class="b" style="left:361.0px;top:431px;width:1px;height:240px;background:repeating-linear-gradient(#cdcdcd 0 1px,transparent 1px 2px);z-index:1"></div>
<div class="b" style="left:481.0px;top:431px;width:1px;height:240px;background:repeating-linear-gradient(#cdcdcd 0 1px,transparent 1px 2px);z-index:1"></div>
<div class="b" style="left:581.0px;top:431px;width:1px;height:240px;background:repeating-linear-gradient(#cdcdcd 0 1px,transparent 1px 2px);z-index:1"></div>
<div class="b" style="left:631.0px;top:431px;width:1px;height:240px;background:repeating-linear-gradient(#cdcdcd 0 1px,transparent 1px 2px);z-index:1"></div>
<div class="b" style="left:681.0px;top:431px;width:1px;height:240px;background:repeating-linear-gradient(#cdcdcd 0 1px,transparent 1px 2px);z-index:1"></div>
<div class="b" style="left:731.0px;top:431px;width:1px;height:240px;background:repeating-linear-gradient(#cdcdcd 0 1px,transparent 1px 2px);z-index:1"></div>
<div class="b" style="left:781.0px;top:431px;width:1px;height:240px;background:repeating-linear-gradient(#cdcdcd 0 1px,transparent 1px 2px);z-index:1"></div>
<div class="b" style="left:841.0px;top:431px;width:1px;height:240px;background:repeating-linear-gradient(#cdcdcd 0 1px,transparent 1px 2px);z-index:1"></div>
<div class="b" style="left:916.0px;top:431px;width:1px;height:240px;background:repeating-linear-gradient(#cdcdcd 0 1px,transparent 1px 2px);z-index:1"></div>
<div class="b" style="left:1051.0px;top:431px;width:1px;height:240px;background:repeating-linear-gradient(#cdcdcd 0 1px,transparent 1px 2px);z-index:1"></div>
<div class="b" style="left:1186.0px;top:431px;width:1px;height:240px;background:repeating-linear-gradient(#cdcdcd 0 1px,transparent 1px 2px);z-index:1"></div>
<div class="b" style="left:1286.0px;top:431px;width:1px;height:240px;background:repeating-linear-gradient(#cdcdcd 0 1px,transparent 1px 2px);z-index:1"></div>
<div class="b" style="left:1386.0px;top:431px;width:1px;height:240px;background:repeating-linear-gradient(#cdcdcd 0 1px,transparent 1px 2px);z-index:1"></div>
<div class="b" style="left:1486.0px;top:431px;width:1px;height:240px;background:repeating-linear-gradient(#cdcdcd 0 1px,transparent 1px 2px);z-index:1"></div>
<div class="b" style="left:1586.0px;top:431px;width:1px;height:240px;background:repeating-linear-gradient(#cdcdcd 0 1px,transparent 1px 2px);z-index:1"></div>
<div class="b" style="left:1786.0px;top:431px;width:1px;height:240px;background:repeating-linear-gradient(#cdcdcd 0 1px,transparent 1px 2px);z-index:1"></div>
<div class="b" style="left:113px;top:574px;width:23px;height:24px;border:1.5px solid #3d84c6;z-index:2"></div>
<div class="b" style="left:1555px;top:677px;width:238px;height:36px;background:#b00000;border-radius:4px"></div>
<div class="t" style="left:1555.0px;width:238px;text-align:center;top:686.00px;font-size:14px;line-height:18px;color:#fff;letter-spacing:0.2px">Copy Selected Nominations</div>
<div class="b" style="left:1659px;top:791px;width:10px;height:26px;background:#b00000;border-radius:5px"></div>
<div class="t" style="left:1676px;top:794.00px;font-size:15px;line-height:19px;color:#3a4e5c;font-weight:700;">Search Totals</div>
<div class="b" style="left:1659px;top:830px;width:151px;height:48px;background:#fff;box-shadow:0 2px 8px rgba(0,0,0,.08)"></div>
<div class="b" style="left:1659px;top:830px;width:151px;height:24px;background:#f2f2f2"></div>
<div class="t" style="left:1666.5px;top:834.50px;font-size:12px;line-height:15px;color:#555;">Delivery</div>
<div class="t" style="left:1721.5px;top:834.50px;font-size:12px;line-height:15px;color:#555;">2,688.5</div>
<div class="t" style="left:1771.5px;top:834.50px;font-size:12px;line-height:15px;color:#555;">MBbls</div>
<div class="t" style="left:1666.5px;top:858.50px;font-size:12px;line-height:15px;color:#555;">Receipt</div>
<div class="t" style="left:1721.5px;top:858.50px;font-size:12px;line-height:15px;color:#555;">2,738.5</div>
<div class="t" style="left:1771.5px;top:858.50px;font-size:12px;line-height:15px;color:#555;">MBbls</div>
<div class="b" style="left:0px;top:422px;width:18px;height:93px;background:#b00000;border-radius:0 4px 4px 0"></div>
<div class="b" style="left:0px;top:468.2px;width:10.8px;height:1.5px;background:#fff"></div>
<div class="b" style="left:0px;top:471.1px;width:10.8px;height:1.5px;background:#fff"></div>
<div class="b" style="left:0px;top:474.0px;width:10.8px;height:1.5px;background:#fff"></div>
<div class="b" style="left:1882px;top:425px;width:31px;height:132px;background:#0b5a9e;border-radius:4px 0 0 4px"></div>
<div class="t" style="left:1899px;top:476px;transform:translate(-50%,-50%) rotate(-90deg);font-size:12px;line-height:14px;color:#fff;letter-spacing:0.3px">QA Feedback</div>
<svg class="t" style="left:1888px;top:523px" width="20" height="20" viewBox="0 0 20 20">
<circle cx="10" cy="10" r="8" fill="none" stroke="#fff" stroke-width="1.6"/>
<path d="M9 5.5 A4.5 4.5 0 0 1 9 14.5 A6 6 0 0 0 9 5.5Z" fill="#fff"/>
</svg>
<div class="b" style="left:1912px;top:2px;width:1px;height:870px;background:#cc0000;z-index:20"></div>
<div class="b" style="left:1912px;top:0px;width:1px;height:2px;background:#fff;z-index:20"></div>
<div class="b" style="left:1911px;top:0px;width:1px;height:70px;background:#333;z-index:20"></div>
<div class="b" style="left:1912px;top:872px;width:1px;height:62px;background:#dcdcdc;z-index:20"></div>
<svg class="t" style="left:40px;top:440px;z-index:5;overflow:visible" width="90" height="90" viewBox="40 440 90 90">
<path d="M66 516 L108 459" stroke="#a51c20" stroke-width="3.6" fill="none" style="filter:drop-shadow(1px 2px 1.5px rgba(0,0,0,.4))"/>
<path d="M115.5 449 L113.5 463.5 L102 455 Z" fill="#a51c20"/>
</svg>
<div class="b" style="left:1147.0px;top:206.0px;width:41px;height:41px;border-radius:50%;background:radial-gradient(circle at 45% 35%,#b82025,#a31b1f 70%);box-shadow:1px 3px 4px rgba(0,0,0,.45);z-index:5"></div>
<div class="t" style="left:1147.5px;width:40px;text-align:center;top:208.50px;font-size:29px;line-height:36px;color:#fff;z-index:6;font-family:NanumGothic,'Liberation Sans',sans-serif;">1</div>
<div class="b" style="left:37.0px;top:511.0px;width:41px;height:41px;border-radius:50%;background:radial-gradient(circle at 45% 35%,#b82025,#a31b1f 70%);box-shadow:1px 3px 4px rgba(0,0,0,.45);z-index:5"></div>
<div class="t" style="left:37.5px;width:40px;text-align:center;top:513.50px;font-size:29px;line-height:36px;color:#fff;z-index:6;">2</div>
<div class="b" style="left:1489.0px;top:672.0px;width:41px;height:41px;border-radius:50%;background:radial-gradient(circle at 45% 35%,#b82025,#a31b1f 70%);box-shadow:1px 3px 4px rgba(0,0,0,.45);z-index:5"></div>
<div class="t" style="left:1489.5px;width:40px;text-align:center;top:674.50px;font-size:29px;line-height:36px;color:#fff;z-index:6;">3</div>
</body></html>
